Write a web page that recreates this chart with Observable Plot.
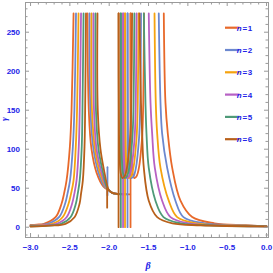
<!DOCTYPE html>
<html><head><meta charset="utf-8">
<script src="https://cdn.jsdelivr.net/npm/d3@7"></script>
<script src="https://cdn.jsdelivr.net/npm/@observablehq/plot@0.6"></script>
<style>
body{margin:0;background:#fff;}
#chart{position:relative;width:273px;height:273px;overflow:hidden;}
</style>
</head><body><div id="chart"></div>
<script>
// ---- data ----
const nValues = [1, 2, 3, 4, 5, 6];
const seriesLabels = ["1", "2", "3", "4", "5", "6"];
const xTicks = [-3, -2.5, -2, -1.5, -1, -0.5, 0];
const yTicks = [0, 50, 100, 150, 200, 250];

// left branch (rising towards the first pole)
const leftTailBeta = [[-3, -2.92], [-3, -2.88], [-3, -2.85], [-3, -2.82], [-3, -2.78], [-3, -2.75]];
const leftTailV = [[2.8, 3.4], [2.4, 3.0], [2.0, 2.8], [1.6, 2.5], [1.2, 2.1], [0.9, 2.0]];
const leftV = [4.3, 12.8, 30, 43, 60, 103, 149, 274];
const leftBeta = [
  [-2.831, -2.682, -2.606, -2.574, -2.542, -2.500, -2.479, -2.453],
  [-2.778, -2.638, -2.561, -2.530, -2.498, -2.462, -2.443, -2.422],
  [-2.723, -2.593, -2.517, -2.485, -2.453, -2.425, -2.409, -2.390],
  [-2.670, -2.542, -2.472, -2.443, -2.415, -2.387, -2.375, -2.358],
  [-2.612, -2.492, -2.424, -2.400, -2.375, -2.349, -2.340, -2.326],
  [-2.555, -2.441, -2.377, -2.358, -2.335, -2.314, -2.306, -2.295]
];

// middle branch (falling from the first pole)
const midV = [274, 149, 100, 70, 52, 47, 44, 43, 42];
const midBeta = [
  [-2.276, -2.259, -2.225, -2.161, -2.072, -2.0, -1.96, -1.92, -1.733],
  [-2.250, -2.238, -2.200, -2.136, -2.060, -2.0, -1.96, -1.92, -1.771],
  [-2.225, -2.219, -2.180, -2.117, -2.047, -2.0, -1.96, -1.92, -1.803],
  [-2.200, -2.193, -2.161, -2.098, -2.041, -2.0, -1.96, -1.92, -1.828],
  [-2.174, -2.168, -2.136, -2.079, -2.034, -2.0, -1.96, -1.92, -1.856],
  [-2.149, -2.145, -2.111, -2.060, -2.022, -2.0, -1.96, -1.92, -1.885]
];

// vertical jumps
const jumpBeta = [-1.729, -1.767, -1.799, -1.824, -1.852, -1.881];
const jumpV = [0, 274];

// U-shaped pieces
const uV = [274, 120, 85, 68, 63, 66, 78, 100, 120, 160, 274];
const uBeta = [
  [-1.728, -1.723, -1.714, -1.699, -1.679, -1.649, -1.619, -1.594, -1.579, -1.567, -1.557],
  [-1.766, -1.761, -1.752, -1.737, -1.717, -1.687, -1.657, -1.632, -1.617, -1.605, -1.595],
  [-1.798, -1.793, -1.784, -1.769, -1.749, -1.719, -1.689, -1.664, -1.649, -1.637, -1.627],
  [-1.823, -1.818, -1.809, -1.794, -1.774, -1.744, -1.714, -1.689, -1.674, -1.662, -1.652],
  [-1.851, -1.846, -1.837, -1.822, -1.802, -1.772, -1.742, -1.717, -1.702, -1.690, -1.680],
  [-1.880, -1.875, -1.866, -1.851, -1.831, -1.801, -1.771, -1.746, -1.731, -1.719, -1.709]
];

// right branch (falling from the last pole)
const rightV = [274, 160, 120, 76, 34, 13, 5, 2.5, 1.0];
const rightBeta = [
  [-1.306, -1.285, -1.255, -1.199, -1.094, -0.945, -0.662, -0.268, 0],
  [-1.370, -1.348, -1.327, -1.263, -1.158, -1.056, -0.789, -0.382, 0],
  [-1.424, -1.408, -1.390, -1.348, -1.243, -1.136, -0.891, -0.497, 0],
  [-1.497, -1.475, -1.454, -1.420, -1.327, -1.221, -0.992, -0.611, 0],
  [-1.560, -1.539, -1.526, -1.497, -1.412, -1.310, -1.094, -0.726, 0],
  [-1.615, -1.596, -1.581, -1.560, -1.497, -1.390, -1.196, -0.840, 0]
];

// small extra strokes near beta = -2
const extraN = [2, 6];
const extraBeta = [[-2.022, -2.022], [-2.026, -2.026]];
const extraV = [[41, 77], [25, 50]];

// ---- styles ----
const seriesColors = ["#e8692a", "#6c88cf", "#f5a30f", "#b761c4", "#4e9a78", "#b8601a"];
const blue = "#2323e8";
const frameGray = "#9a9a9a";
const W = 273, H = 273;
const mL = 25, mR = 5, mT = 2, mB = 36;
const innerW = W - mL - mR, innerH = H - mT - mB;

// ---- build rows ----
const rows = [];
let segId = 0;
function addSeg(n, betas, vs, kind) {
  segId++;
  betas.forEach((b, i) => rows.push({beta: b, v: vs[i], n, seg: segId, kind}));
}
nValues.forEach((n, i) => {
  addSeg(n, [...leftTailBeta[i], ...leftBeta[i]], [...leftTailV[i], ...leftV], "smooth");
  addSeg(n, midBeta[i], midV, "smooth");
  addSeg(n, [jumpBeta[i], jumpBeta[i]], jumpV, "linear");
  addSeg(n, uBeta[i], uV, "smooth");
  addSeg(n, rightBeta[i], rightV, "smooth");
  extraN.forEach((en, k) => { if (en === n) addSeg(n, extraBeta[k], extraV[k], "linear"); });
});

const xMinor = d3.range(-30, 1).map(d => d / 10).filter(d => !xTicks.some(t => Math.abs(t - d) < 1e-9));
const yMinor = d3.range(-10, 281, 10).filter(d => d % 50 !== 0);
const fmtX = d => (d < 0 ? "\u2212" : "") + Math.abs(d).toFixed(1);

const lineMarks = [];
nValues.forEach(n => {
  lineMarks.push(Plot.line(rows.filter(r => r.n === n && r.kind === "smooth"),
    {x: "beta", y: "v", z: "seg", stroke: "n", curve: "catmull-rom", strokeWidth: 1.8}));
  lineMarks.push(Plot.line(rows.filter(r => r.n === n && r.kind === "linear"),
    {x: "beta", y: "v", z: "seg", stroke: "n", curve: "linear", strokeWidth: 1.8}));
});

const chart = Plot.plot({
  width: W, height: H,
  marginLeft: mL, marginRight: mR, marginTop: mT, marginBottom: mB,
  style: {fontFamily: "Liberation Sans, Arial, sans-serif", background: "#fff"},
  x: {domain: [-3.064, 0.025]},
  y: {domain: [-13.2, 288.1]},
  color: {type: "ordinal", domain: nValues, range: seriesColors},
  marks: [
    ...lineMarks,
    Plot.frame({stroke: frameGray, strokeWidth: 1}),
    Plot.tickX(xTicks, {x: d => d, insetTop: innerH - 4, stroke: frameGray}),
    Plot.tickX(xMinor, {x: d => d, insetTop: innerH - 2.5, stroke: frameGray}),
    Plot.tickX(xTicks, {x: d => d, insetBottom: innerH - 4, stroke: frameGray}),
    Plot.tickX(xMinor, {x: d => d, insetBottom: innerH - 2.5, stroke: frameGray}),
    Plot.tickY(yTicks, {y: d => d, insetRight: innerW - 4, stroke: frameGray}),
    Plot.tickY(yMinor, {y: d => d, insetRight: innerW - 2.5, stroke: frameGray}),
    Plot.tickY(yTicks, {y: d => d, insetLeft: innerW - 4, stroke: frameGray}),
    Plot.tickY(yMinor, {y: d => d, insetLeft: innerW - 2.5, stroke: frameGray}),
    Plot.axisX(xTicks, {anchor: "bottom", tickSize: 0, tickPadding: 7, tickFormat: fmtX,
      color: blue, fontWeight: "bold", fontSize: 8, label: null}),
    Plot.axisY(yTicks, {anchor: "left", tickSize: 0, tickPadding: 5.5, tickFormat: d => String(d),
      color: blue, fontWeight: "bold", fontSize: 8, label: null})
  ]
});
document.getElementById("chart").appendChild(chart);

// ---- legend and axis labels (layout only) ----
const svg = d3.select(chart);
const lg = svg.append("g").attr("font-family", "Liberation Sans, Arial, sans-serif")
  .attr("font-size", 8).attr("font-weight", "bold");
nValues.forEach((n, i) => {
  const cy = 27.7 + 22.3 * i;
  lg.append("line").attr("x1", 225).attr("x2", 239.5).attr("y1", cy).attr("y2", cy)
    .attr("stroke", seriesColors[i]).attr("stroke-width", 2.2);
  const t = lg.append("text").attr("x", 244.5).attr("y", cy + 3).attr("fill", blue);
  t.append("tspan").attr("font-style", "italic").text("n");
  t.append("tspan").attr("dx", 0.8).text("=");
  t.append("tspan").attr("dx", 0.8).text(seriesLabels[i]);
});
svg.append("text").attr("x", 148).attr("y", 269).attr("text-anchor", "middle")
  .attr("font-family", "Liberation Serif, serif").attr("font-style", "italic").attr("font-weight", "bold")
  .attr("font-size", 10).attr("fill", blue).text("β");
svg.append("text").attr("transform", "translate(7,119) rotate(-90)").attr("text-anchor", "middle")
  .attr("font-family", "Liberation Serif, serif").attr("font-style", "italic").attr("font-weight", "bold")
  .attr("font-size", 9).attr("fill", blue).text("γ");
</script>
</body></html>
